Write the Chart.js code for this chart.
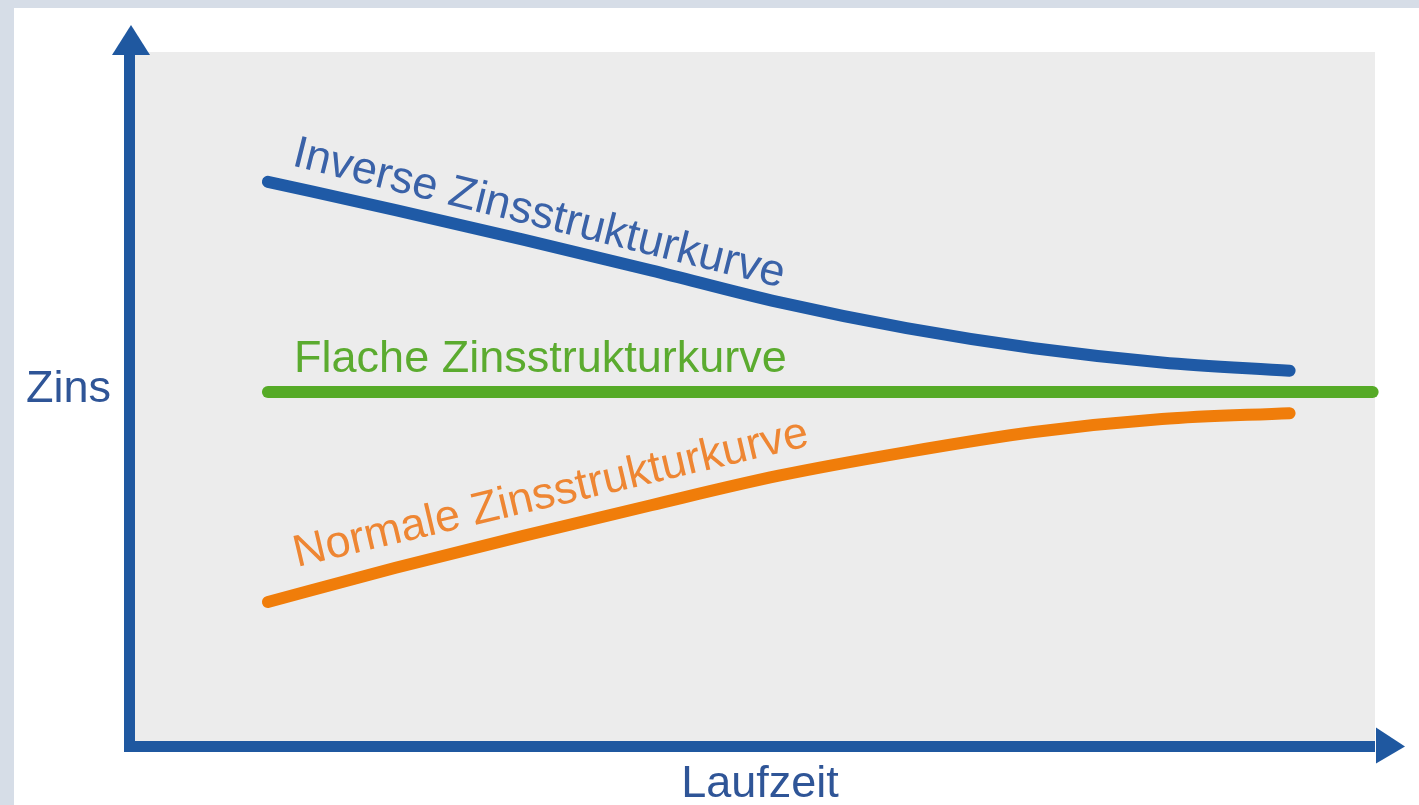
<!DOCTYPE html>
<html>
<head>
<meta charset="utf-8">
<script src="https://cdn.jsdelivr.net/npm/chart.js@4/dist/chart.umd.min.js"></script>
<style>
  html, body { margin: 0; padding: 0; background: #d6dde7; }
  #zinsChart { display: block; }
</style>
</head>
<body>
<canvas id="zinsChart" width="1419" height="805"></canvas>
<script>
// Laufzeit (x) and Zins (y) values
var laufzeit = [1, 2, 3, 4, 5, 6, 7, 8, 9];
var inverseZins = [4.78, 4.54, 4.29, 4.03, 3.76, 3.54, 3.37, 3.25, 3.18];
var normaleZins = [1.22, 1.51, 1.78, 2.04, 2.29, 2.49, 2.66, 2.77, 2.82];
var flacheLaufzeit = [1, 9.65];
var flacheZins = [3.0, 3.0];

var curveLabels = ['Inverse Zinsstrukturkurve', 'Flache Zinsstrukturkurve', 'Normale Zinsstrukturkurve'];
var axisLabels = ['Zins', 'Laufzeit'];

function toPoints(xs, ys) {
    var pts = [];
    for (var i = 0; i < xs.length; i++) {
        pts.push({ x: xs[i], y: ys[i] });
    }
    return pts;
}

var FONT = '45px "Liberation Sans", Arial, sans-serif';
var AXIS_BLUE = '#1f58a0';

var backgroundPlugin = {
    id: 'zinsBackground',
    beforeDraw: function(chart) {
        var ctx = chart.ctx;
        var a = chart.chartArea;
        ctx.save();
        ctx.fillStyle = '#d6dde7';
        ctx.fillRect(0, 0, chart.width, chart.height);
        ctx.fillStyle = '#ffffff';
        ctx.fillRect(14, 8, chart.width - 14, chart.height - 8);
        // grey plot panel
        ctx.fillStyle = '#ececec';
        ctx.fillRect(a.left + 5, a.top, a.right - a.left - 9, a.bottom - a.top - 5);
        ctx.restore();
    },
    afterDraw: function(chart) {
        var ctx = chart.ctx;
        var a = chart.chartArea;
        var xs = chart.scales.x, ys = chart.scales.y;
        ctx.save();

        // axes with arrow heads
        ctx.fillStyle = AXIS_BLUE;
        ctx.fillRect(a.left - 6, a.top + 3, 11, a.bottom - a.top + 3);
        ctx.fillRect(a.left - 6, a.bottom - 5, a.right - a.left + 2, 11);
        ctx.beginPath();
        ctx.moveTo(a.left + 1, a.top - 27);
        ctx.lineTo(a.left + 20, a.top + 3);
        ctx.lineTo(a.left - 18, a.top + 3);
        ctx.closePath();
        ctx.fill();
        ctx.beginPath();
        ctx.moveTo(a.right + 26, a.bottom + 0.5);
        ctx.lineTo(a.right - 3, a.bottom - 18.5);
        ctx.lineTo(a.right - 3, a.bottom + 17.5);
        ctx.closePath();
        ctx.fill();

        ctx.font = FONT;
        ctx.textBaseline = 'alphabetic';
        ctx.fillStyle = '#2f5597';
        ctx.textAlign = 'left';
        ctx.fillText(axisLabels[0], 26, ys.getPixelForValue(3.0) + 10);
        ctx.textAlign = 'center';
        ctx.fillText(axisLabels[1], 760, chart.height - 8);

        // curve captions
        ctx.textAlign = 'left';
        var captions = [
            { text: curveLabels[0], x: 1.18, y: 4.92, angle: 14, color: '#3a62a8' },
            { text: curveLabels[1], x: 1.205, y: 3.17, angle: 0, color: '#5bab2f' },
            { text: curveLabels[2], x: 1.228, y: 1.517, angle: -13.3, color: '#ee8633' }
        ];
        captions.forEach(function(c) {
            ctx.save();
            ctx.translate(xs.getPixelForValue(c.x), ys.getPixelForValue(c.y));
            ctx.rotate(c.angle * Math.PI / 180);
            ctx.fillStyle = c.color;
            ctx.fillText(c.text, 0, 0);
            ctx.restore();
        });
        ctx.restore();
    }
};

var lineStyle = {
    borderWidth: 12,
    borderCapStyle: 'round',
    borderJoinStyle: 'round',
    pointRadius: 0,
    fill: false,
    cubicInterpolationMode: 'monotone'
};

var zinsChart = new Chart(document.getElementById('zinsChart'), {
    type: 'line',
    data: {
        datasets: [
            Object.assign({ label: curveLabels[0], data: toPoints(laufzeit, inverseZins), borderColor: '#1f5aa6' }, lineStyle),
            Object.assign({ label: curveLabels[1], data: toPoints(flacheLaufzeit, flacheZins), borderColor: '#55aa26' }, lineStyle),
            Object.assign({ label: curveLabels[2], data: toPoints(laufzeit, normaleZins), borderColor: '#f07d0a' }, lineStyle)
        ]
    },
    options: {
        responsive: false,
        devicePixelRatio: 1,
        animation: false,
        layout: { padding: { left: 130, right: 40, top: 52, bottom: 59 } },
        scales: {
            x: { type: 'linear', display: false, min: -0.08, max: 9.70 },
            y: { type: 'linear', display: false, min: 0, max: 5.88 }
        },
        plugins: {
            legend: { display: false },
            tooltip: { enabled: false }
        }
    },
    plugins: [backgroundPlugin]
});
console.log('chart area', zinsChart.chartArea);
</script>
</body>
</html>
